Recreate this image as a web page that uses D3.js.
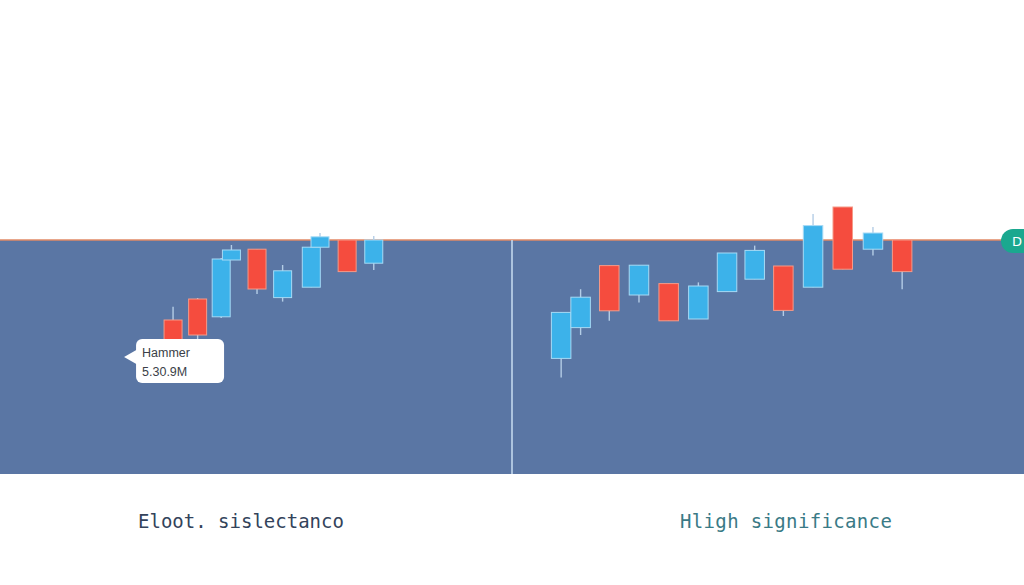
<!DOCTYPE html>
<html>
<head>
<meta charset="utf-8">
<script src="https://cdn.jsdelivr.net/npm/d3@7"></script>
<style>
  html, body { margin: 0; padding: 0; background: #ffffff; }
  svg { display: block; }
</style>
</head>
<body>
<svg id="chart" width="1024" height="585"></svg>
<script>
// ---- data ----
// left panel candles (time in session units, OHLC prices)
const leftT = [16.9, 19.3, 21.6, 22.6, 25.1, 27.6, 30.4, 31.25, 33.9, 36.5];
const leftO = [88.5, 93.75, 89.3, 103.5, 106.2, 94.1, 96.7, 106.7, 108.5, 102.7];
const leftH = [91.8, 94.0, 104.0, 107.25, 106.2, 102.25, 106.7, 110.25, 108.5, 109.5];
const leftL = [81.0, 83.5, 89.0, 103.5, 95.0, 93.1, 96.7, 106.7, 100.6, 101.0];
const leftC = [82.25, 84.75, 103.75, 106.0, 96.25, 100.8, 106.7, 109.3, 100.6, 108.5];

// right panel candles
const rightT = [54.8, 56.7, 59.5, 62.4, 65.3, 68.2, 71.0, 73.7, 76.5, 79.4, 82.3, 85.25, 88.1];
const rightO = [78.9, 86.6, 102.1, 94.75, 97.6, 88.75, 95.6, 98.7, 102.0, 96.7, 116.75, 106.2, 108.5];
const rightH = [90.4, 96.2, 102.1, 102.2, 97.6, 97.9, 105.25, 107.1, 102.0, 115.0, 116.75, 111.75, 108.5];
const rightL = [74.1, 84.75, 88.3, 92.9, 88.3, 88.75, 95.6, 98.7, 89.5, 96.7, 101.2, 104.6, 96.2];
const rightC = [90.4, 94.2, 90.8, 102.2, 88.3, 97.0, 105.25, 105.9, 90.9, 112.1, 101.2, 110.25, 100.6];

const panelLabels = ["Eloot. sislectanco", "Hligh significance"];
const tooltipLines = ["Hammer", "5.30.9M"];
const badgeText = ["D"];
const xDomain = [0, 100];
const yDomain = [50, 108.5];
const dividerT = [50];

// ---- drawing ----
const svg = d3.select("#chart");
const W = 1024;
const x = d3.scaleLinear().domain(xDomain).range([0, W]);
const y = d3.scaleLinear().domain(yDomain).range([474, 240]);

// panel background
svg.append("rect")
  .attr("x", x(xDomain[0])).attr("y", y(yDomain[1]))
  .attr("width", x(xDomain[1]) - x(xDomain[0]))
  .attr("height", y(yDomain[0]) - y(yDomain[1]))
  .attr("fill", "#5a76a4");

// top orange reference line
svg.append("line")
  .attr("x1", x(xDomain[0])).attr("x2", x(xDomain[1]))
  .attr("y1", y(yDomain[1])).attr("y2", y(yDomain[1]))
  .attr("stroke", "#e08a66").attr("stroke-width", 1.6);

// divider
svg.selectAll("line.divider").data(dividerT).join("line")
  .attr("class", "divider")
  .attr("x1", d => x(d)).attr("x2", d => x(d))
  .attr("y1", y(yDomain[1])).attr("y2", y(yDomain[0]))
  .attr("stroke", "#c9def2").attr("stroke-width", 1.5);

function build(T, O, H, L, C) {
  return T.map((t, i) => ({ t, o: O[i], h: H[i], l: L[i], c: C[i] }));
}
const leftData = build(leftT, leftO, leftH, leftL, leftC);
const rightData = build(rightT, rightO, rightH, rightL, rightC);

function drawCandles(data, bw, cls) {
  const g = svg.append("g").attr("class", cls);
  g.selectAll("line.wick").data(data).join("line")
    .attr("class", "wick")
    .attr("x1", d => x(d.t)).attr("x2", d => x(d.t))
    .attr("y1", d => y(d.h)).attr("y2", d => y(d.l))
    .attr("stroke", "#b4cde6").attr("stroke-width", 1.4);
  g.selectAll("rect.body").data(data).join("rect")
    .attr("class", "body")
    .attr("x", d => x(d.t) - bw / 2)
    .attr("width", bw)
    .attr("y", d => y(Math.max(d.o, d.c)))
    .attr("height", d => Math.max(1, Math.abs(y(d.o) - y(d.c))))
    .attr("fill", d => d.c >= d.o ? "#3cb2ea" : "#f54c3e")
    .attr("stroke", d => d.c >= d.o ? "#a6daf5" : "#f59a88")
    .attr("stroke-width", 1);
}
drawCandles(leftData, 18, "left");
drawCandles(rightData, 19.5, "right");

// tooltip attached to first left candle
const tipX = x(leftT[0]) - 37, tipY = 339;
const tip = svg.append("g");
tip.append("path")
  .attr("d", `M${tipX - 12},${tipY + 18} L${tipX + 2},${tipY + 10} L${tipX + 2},${tipY + 26} Z`)
  .attr("fill", "#ffffff");
tip.append("rect")
  .attr("x", tipX).attr("y", tipY).attr("width", 88).attr("height", 44)
  .attr("rx", 6).attr("fill", "#ffffff");
tip.selectAll("text").data(tooltipLines).join("text")
  .attr("x", tipX + 6)
  .attr("y", (d, i) => tipY + 18 + i * 19)
  .attr("font-family", "Liberation Sans, Arial, sans-serif")
  .attr("font-size", 12.5)
  .attr("fill", "#3b3f48")
  .text(d => d);

// right-edge badge
const badge = svg.append("g");
badge.append("rect")
  .attr("x", 1001).attr("y", 229).attr("width", 50).attr("height", 24)
  .attr("rx", 12).attr("fill", "#1aa88f");
badge.selectAll("text").data(badgeText).join("text")
  .attr("x", 1012).attr("y", 246)
  .attr("font-family", "DejaVu Sans, sans-serif")
  .attr("font-size", 13)
  .attr("fill", "#ffffff")
  .text(d => d);

// bottom panel labels
const labelX = [138, 680];
const labelColors = ["#33435b", "#3a7a86"];
const labelSpacing = [0, 0.35];
svg.selectAll("text.plabel").data(panelLabels).join("text")
  .attr("class", "plabel")
  .attr("x", (d, i) => labelX[i])
  .attr("y", 528)
  .attr("font-family", "DejaVu Sans Mono, monospace")
  .attr("font-size", 19)
  .attr("letter-spacing", (d, i) => labelSpacing[i])
  .attr("fill", (d, i) => labelColors[i])
  .text(d => d);
</script>
</body>
</html>
